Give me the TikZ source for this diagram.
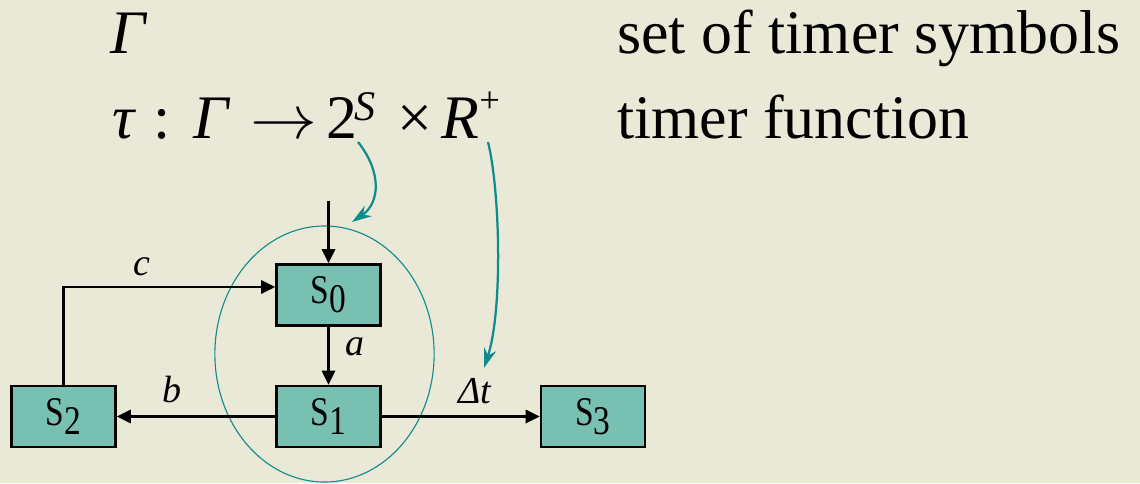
\documentclass[tikz,border=0pt]{standalone}
\usepackage{fontspec}
\setmainfont{Liberation Serif}
\usetikzlibrary{arrows.meta,calc,shapes.geometric}
\definecolor{bg}{RGB}{234,233,216}
\definecolor{boxfill}{RGB}{120,192,177}
\definecolor{tealc}{RGB}{16,140,140}
\newcommand{\stname}[1]{\scalebox{0.82}[1]{S\raisebox{-0.22em}{#1}}}
\newcommand{\bigarrow}{\scalebox{4.75}[4.4]{\fontsize{10}{12}\selectfont$\rightarrow$}}
\begin{document}
\begin{tikzpicture}[x=0.025cm,y=-0.025cm,
  state/.style={draw=black, line width=1.7pt, fill=boxfill, minimum width=2.6cm, minimum height=1.53cm, inner sep=0pt, font=\fontsize{29}{29}\selectfont},
  arr/.style={line width=1.6pt, -{Triangle[length=10pt,width=9.5pt]}},
  lab/.style={font=\fontsize{27}{27}\selectfont\itshape, inner sep=0pt},
  big/.style={font=\fontsize{44}{44}\selectfont, inner sep=0pt, anchor=base west},
  tarr/.style={tealc, line width=1.6pt, -{Stealth[length=14pt,width=9pt]}},
  group/.style={draw=tealc, line width=0.8pt, ellipse, minimum width=5.48cm, minimum height=6.4cm, inner sep=0pt}]
\fill[bg] (0,0) rectangle (1140,483);
\useasboundingbox (0,0) rectangle (1140,483);

% texts
\node[big] (gam) at (110,53) {\itshape Γ};
\node[big] (tau) at (112,138) {\makebox[29.2pt][l]{\itshape τ}\makebox[28.5pt][l]{:}\makebox[40.5pt][l]{\itshape Γ}\makebox[54pt][l]{\bigarrow}\makebox[20pt][l]{2}\makebox[30.6pt][l]{\raisebox{0.29em}{\fontsize{30}{30}\selectfont\itshape S}}\makebox[31.3pt][l]{×}{\itshape R}\raisebox{0.41em}{\fontsize{26}{26}\selectfont +}};
\node[big] (t1) at (617,53) {set of timer symbols};
\node[big] (t2) at (617,138) {timer function};

% group ellipse
\node[group] (grp) at (324.5,354) {};

% states
\node[state] (s0) at (328.5,295) {\stname{0}};
\node[state] (s1) at (328.5,416.5) {\stname{1}};
\node[state] (s2) at (63.5,416.5) {\stname{2}};
\node[state] (s3) at (593,416.5) {\stname{3}};

\coordinate (init) at (328.5,201);
\draw[arr] (init) -- (s0.north);
\draw[arr] (s0) -- node[lab, pos=0.35, right=11pt] {a} (s1);
\draw[arr] (s1) -- node[lab, pos=0.65, above=9pt] {b} (s2);
\draw[arr] (s2.north) |- node[lab, pos=0.684, above=7pt] {c} ($(s0.west)+(0,-8)$);
\draw[arr] (s1) -- node[lab, pos=0.59, above=8.5pt] (dt) {Δt} (s3);

% teal pointers
\coordinate (p1s) at (358,142);
\coordinate (p1e) at (352,222);
\coordinate (p2s) at (488,142);
\coordinate (p2e) at (484,368);
\draw[tarr] (p1s) .. controls (382,172) and (380,203) .. (p1e);
\draw[tarr] (p2s) .. controls (500,190) and (503,310) .. (p2e);
\end{tikzpicture}
\end{document}
